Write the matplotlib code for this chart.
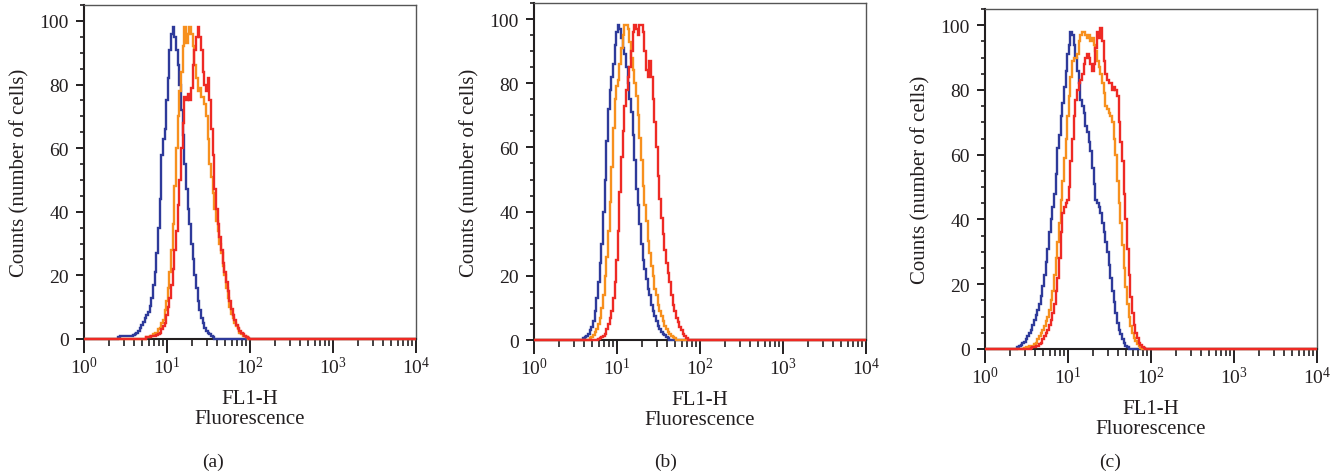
import numpy as np
import matplotlib
matplotlib.use("Agg")
import matplotlib.pyplot as plt
from matplotlib.ticker import LogLocator, MultipleLocator

plt.rcParams['font.family'] = ['Liberation Serif', 'DejaVu Serif']
plt.rcParams['mathtext.fontset'] = 'custom'
plt.rcParams['mathtext.rm'] = 'Liberation Serif'
plt.rcParams['mathtext.it'] = 'Liberation Serif:italic'
plt.rcParams['mathtext.default'] = 'regular'

# ---- data: histogram counts on a log10 grid (bin width 0.02 decade) ----
bin_width = 0.02
panel_labels = ["(a)", "(b)", "(c)"]
series_names = ["blue", "orange", "red"]
colors = {"blue": "#2E3A9A", "orange": "#F7901E", "red": "#EE2A24"}

# panel (a): first bin centre (log10 of FL1-H) and counts per bin
a_blue_start = 0.42
a_blue = [0.5, 1, 1, 1, 1, 1, 1, 1, 1, 1.2, 1.5, 2, 2.5, 3.5, 4.5, 5.5, 6.5, 7.5,
          8.5, 10.5, 13, 17, 21, 27, 35, 44, 58, 63, 66, 75, 82, 91, 96, 98, 95,
          91, 86, 80, 72, 64, 55, 47, 41, 36, 30, 25, 20, 16, 12, 9, 6.5, 5, 3.5,
          2.5, 2, 1.5, 1, 0.5, 0]
a_orange_start = 0.74
a_orange = [0, 0.5, 0.5, 1, 1, 1.5, 2, 2, 3, 3.5, 5, 6, 9, 12, 16, 21, 28, 36, 48,
            60, 70, 78, 84, 92, 98, 93, 96, 98, 96, 92, 86, 82, 78, 79, 76, 76, 74,
            70, 63, 55, 51, 46, 41, 37, 34, 30, 27, 23, 20, 16, 13, 10, 8, 6.5, 5,
            4, 3, 2, 1.5, 1, 1, 0.5, 0]
a_red_start = 0.74
a_red = [0, 0.5, 0.5, 0.5, 0.8, 1, 1, 1.2, 1.5, 2, 3, 4, 5, 7.5, 10, 13, 17, 22,
         28, 34, 42, 50, 60, 68, 76, 75, 77, 75, 79, 86, 91, 95, 98, 95, 91, 84,
         80, 78, 82, 75, 66, 58, 47, 41, 36, 32, 28, 24, 21, 18, 15, 12, 9.5, 7.5,
         6, 4.5, 3.5, 2.5, 2, 1.5, 1, 0.5, 0.3, 0]

# panel (b)
b_blue_start = 0.58
b_blue = [0, 0.5, 0.8, 1.2, 2, 3, 4, 6, 9, 13, 18, 24, 30, 40, 50, 62, 72, 78, 82,
          86, 92, 96, 98, 97, 94, 91, 89, 85, 80, 75, 71, 64, 56, 47, 42, 36, 30,
          25, 22, 19, 16, 14, 11, 9, 7.5, 6, 4.5, 3.5, 2.5, 2, 1.5, 1, 0.5, 0]
b_orange_start = 0.66
b_orange = [0, 0.5, 1, 1.5, 2.5, 3.5, 5, 7, 10, 14, 20, 26, 34, 43, 54, 66, 75, 79,
            81, 86, 91, 95, 98, 98, 97, 93, 88, 84, 80, 76, 70, 63, 56, 48, 42, 37,
            31, 27, 23, 20, 16, 14, 11, 9, 7.5, 6, 4.5, 3.5, 2.5, 1.8, 1.2, 0.8,
            0.5, 0]
b_red_start = 0.76
b_red = [0, 0.3, 0.5, 0.8, 1.2, 2, 3.5, 5, 7, 9, 13, 18, 25, 34, 46, 57, 65, 73, 78,
         82, 85, 90, 96, 98, 97, 95, 98, 98, 96, 90, 84, 82, 87, 82, 75, 68, 60, 51,
         44, 38, 33, 28, 24, 21, 18, 14, 11, 9, 7, 5.5, 4, 3, 2, 1.2, 0.5, 0]

# panel (c)
c_blue_start = 0.38
c_blue = [0, 0.5, 1, 1.3, 1.7, 2.2, 3, 4, 5, 6, 7.5, 9, 10.5, 12, 14, 16.5, 19.5,
          23, 27, 31, 36, 40, 44, 48, 54, 62, 66, 72, 76, 81, 86, 91, 94, 98, 97,
          94, 90, 86, 82, 77, 75, 73, 69, 67, 64, 61, 56, 51, 46, 45, 44, 42, 39,
          36, 33, 30, 26, 22, 18, 14.5, 11, 8, 6, 4.5, 3, 2, 1, 0.5, 0]
c_orange_start = 0.46
c_orange = [0, 0.3, 0.5, 0.6, 0.8, 0.8, 1, 1.5, 2, 3, 4, 5, 6, 7, 8.5, 10, 12, 15,
            18, 23, 28, 33, 39, 46, 52, 59, 65, 72, 78, 84, 89, 90, 90, 91, 95, 97,
            98, 98, 97, 96, 97, 95, 96, 94, 92, 89, 87, 85, 82, 79, 75, 74, 73, 72,
            70, 65, 60, 52, 45, 39, 32, 25, 19, 14, 10, 7, 5, 3.5, 2.5, 1.5, 0.8,
            0.3, 0]
c_red_start = 0.54
c_red = [0, 0.3, 0.5, 0.6, 0.8, 1, 1.5, 2, 3, 4, 5, 6, 7.5, 9, 11, 14, 18, 22, 28,
         36, 42, 44, 45, 46, 50, 58, 65, 72, 77, 80, 82, 83, 85, 88, 90, 91, 90, 88,
         86, 88, 93, 98, 96, 99, 95, 89, 85, 83, 82, 82, 80, 81, 80, 78, 70, 64,
         58, 48, 40, 31, 23, 16, 11, 7.5, 5, 3.5, 2, 1.2, 0.6, 0.3, 0]

x_ticks = [1, 10, 100, 1000, 10000]
y_ticks = [0, 20, 40, 60, 80, 100]
y_label = "Counts (number of cells)"
x_label = "FL1-H\nFluorescence"

panels = [
    [(a_blue_start, a_blue), (a_orange_start, a_orange), (a_red_start, a_red)],
    [(b_blue_start, b_blue), (b_orange_start, b_orange), (b_red_start, b_red)],
    [(c_blue_start, c_blue), (c_orange_start, c_orange), (c_red_start, c_red)],
]

# ---- layout (pixels) ----
W, H = 1331, 477
fig = plt.figure(figsize=(W / 100, H / 100), dpi=100)
boxes = [(84, 416, 6, 340), (534, 866, 4, 341), (985, 1317, 10, 350)]
caption_x = [213, 666, 1110]
caption_y = 462
txt_color = "#231F20"

for i, ((l, r, t, b), series) in enumerate(zip(boxes, panels)):
    ax = fig.add_axes([l / W, (H - b) / H, (r - l) / W, (b - t) / H])
    ax.set_xscale("log")
    ax.set_xlim(1, 1e4)
    ax.set_ylim(0, 105)
    for name, (start, vals) in zip(series_names, series):
        n = len(vals)
        edges = 10 ** (start - bin_width / 2 + bin_width * np.arange(n + 1))
        e = np.concatenate([[1.0], edges, [1e4]])
        v = np.concatenate([[0.0], np.asarray(vals, float), [0.0]])
        ax.stairs(v, e, baseline=None, color=colors[name], lw=1.7,
                  zorder=3, clip_on=False)
    ax.set_xticks(x_ticks)
    ax.set_yticks(y_ticks)
    ax.yaxis.set_minor_locator(MultipleLocator(5))
    ax.xaxis.set_minor_locator(LogLocator(base=10, subs=np.arange(2, 10), numticks=20))
    ax.tick_params(axis="y", which="major", direction="out", length=6, width=1.4,
                   pad=5, labelsize=14, colors=txt_color)
    ax.tick_params(axis="y", which="minor", direction="out", length=3, width=1.2,
                   colors=txt_color)
    ax.tick_params(axis="x", which="major", direction="out", length=10, width=1.4,
                   pad=2, labelsize=14, colors=txt_color)
    ax.tick_params(axis="x", which="minor", direction="out", length=5, width=1.2,
                   colors=txt_color)
    for s in ["left", "bottom"]:
        ax.spines[s].set_color(txt_color)
        ax.spines[s].set_linewidth(1.5)
    for s in ["top", "right"]:
        ax.spines[s].set_color("#555555")
        ax.spines[s].set_linewidth(1.0)
    ax.set_ylabel(y_label, fontsize=15, color=txt_color)
    ax.yaxis.set_label_coords(-55 / (r - l), 0.5)
    ax.set_xlabel(x_label, fontsize=15, color=txt_color, linespacing=1.1)
    ax.xaxis.set_label_coords(0.5, -50 / (b - t))
    fig.text(caption_x[i] / W, 1 - caption_y / H, panel_labels[i], ha="center",
             va="center", fontsize=14, color=txt_color)

fig.savefig("out.png", dpi=100)
